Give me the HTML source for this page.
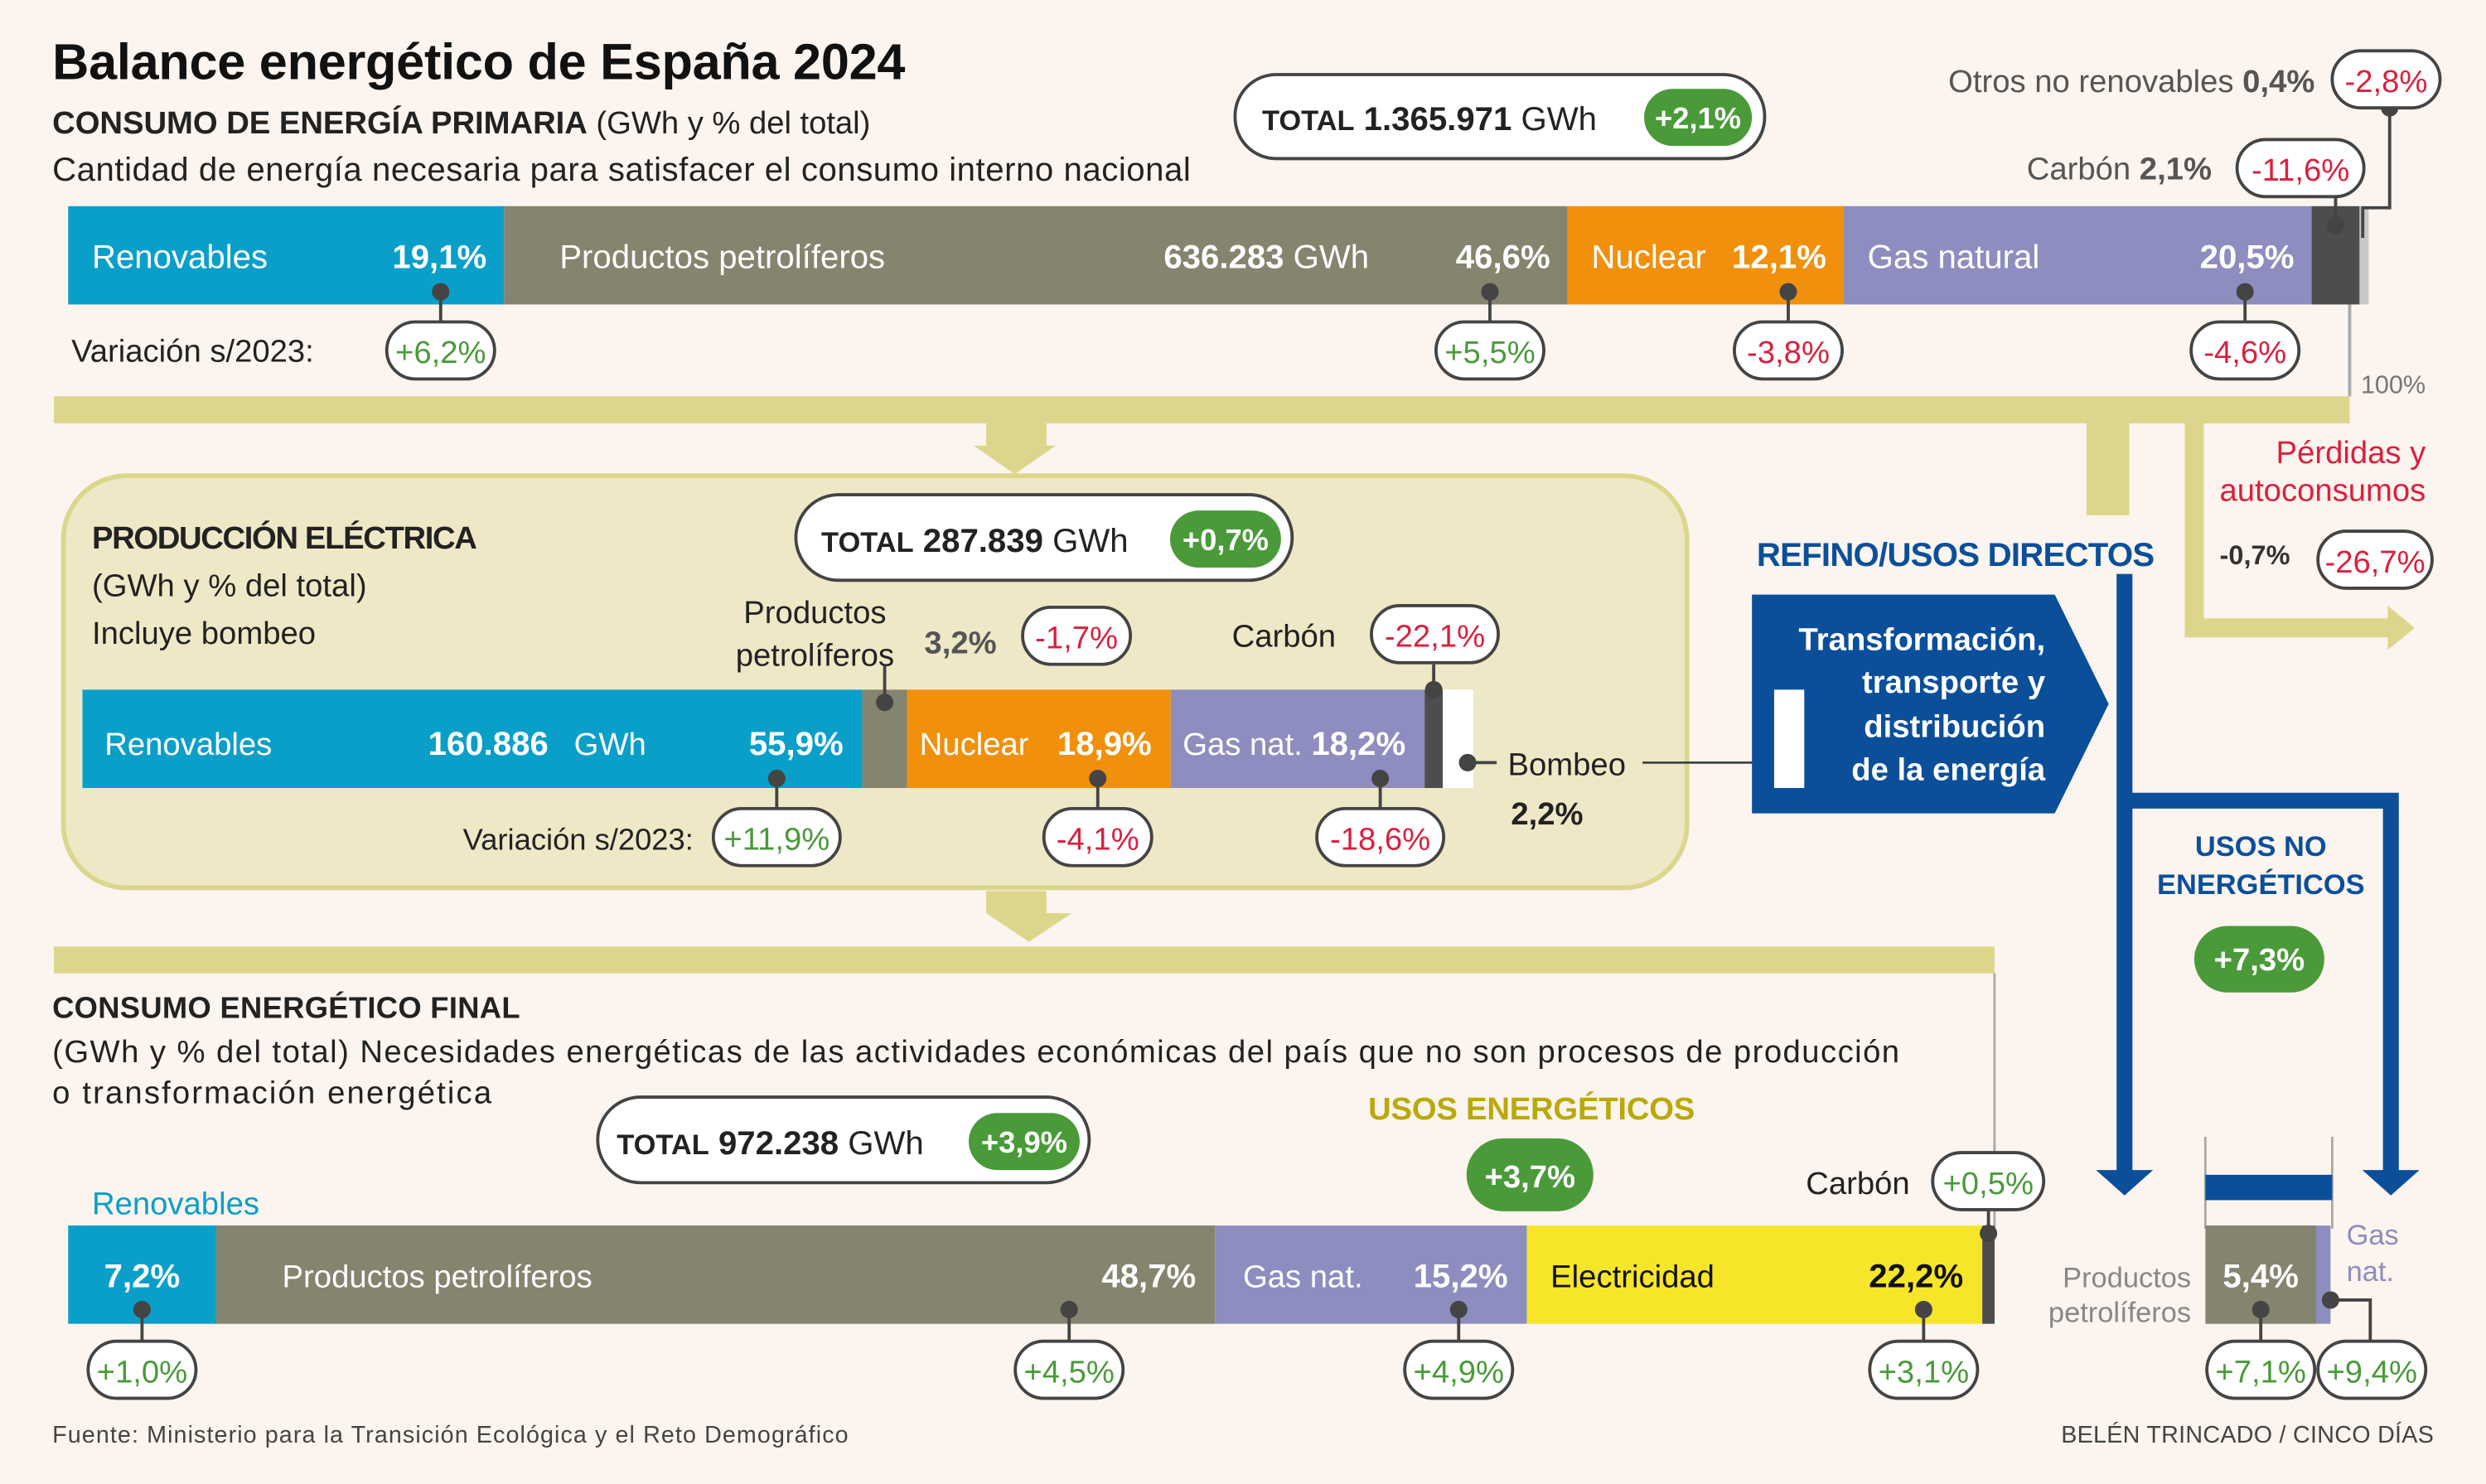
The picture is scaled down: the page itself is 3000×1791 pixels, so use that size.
<!DOCTYPE html>
<html><head><meta charset="utf-8">
<style>
html,body{margin:0;padding:0;background:#fcf4ee;}
svg{display:block;font-family:"Liberation Sans",sans-serif;}
.w{fill:#fff}.b{font-weight:bold}
.pill{fill:#fff;stroke:#444;stroke-width:2}
.red{fill:#d8213e}.grn{fill:#4a9a3a}
</style></head>
<body>
<svg id="chart" width="3000" height="1791" viewBox="0 0 1568 936" xmlns="http://www.w3.org/2000/svg">
<rect width="1568" height="936" fill="#fcf4ee"/>
<g id="static" font-size="20" fill="#222">
<text x="33" y="50" font-size="32" font-weight="bold" fill="#111" textLength="538">Balance energético de España 2024</text>
<text x="33" y="84" font-size="20" textLength="516"><tspan font-weight="bold">CONSUMO DE ENERGÍA PRIMARIA</tspan> (GWh y % del total)</text>
<text x="33" y="114" font-size="21" textLength="718">Cantidad de energía necesaria para satisfacer el consumo interno nacional</text>
<rect x="779" y="47" width="334" height="53" rx="26" class="pill"/>
<text x="796" y="82" font-size="21"><tspan font-weight="bold" font-size="18">TOTAL</tspan> <tspan font-weight="bold">1.365.971</tspan> GWh</text>
<rect x="1037" y="56" width="68" height="36" rx="18" fill="#4a9a3a"/>
<text x="1071" y="81" text-anchor="middle" class="w b" font-size="19">+2,1%</text>
<text x="1460" y="58" text-anchor="end" fill="#555" font-size="20">Otros no renovables <tspan font-weight="bold">0,4%</tspan></text>
<text x="1395" y="113" text-anchor="end" fill="#555" font-size="20">Carbón <tspan font-weight="bold">2,1%</tspan></text>
<text x="45" y="228" font-size="20">Variación s/2023:</text>
<rect x="34" y="250" width="1448" height="17" fill="#dcd68c"/>
<line x1="1482" y1="192" x2="1482" y2="250" stroke="#aaa" stroke-width="2"/>
<text x="1489" y="248" font-size="16" fill="#777">100%</text>
<rect x="622" y="267" width="38" height="14" fill="#dcd68c"/>
<polygon points="614,281 666,281 640,299" fill="#dcd68c"/>
<rect x="1316" y="258" width="27" height="67" fill="#dcd68c"/>
<path d="M1384,258 V396 H1508" fill="none" stroke="#dcd68c" stroke-width="12"/>
<polygon points="1506,382 1523,396 1506,410" fill="#dcd68c"/>
<text x="1530" y="292" text-anchor="end" class="red" font-size="20">Pérdidas y</text>
<text x="1530" y="316" text-anchor="end" class="red" font-size="20">autoconsumos</text>
<text x="1400" y="356" font-size="17" font-weight="bold" fill="#333">-0,7%</text>
<rect x="40" y="300" width="1024" height="260" rx="40" fill="#efe8c6" stroke="#dcd68c" stroke-width="3"/>
<text x="58" y="346" font-size="20" font-weight="bold" textLength="243">PRODUCCIÓN ELÉCTRICA</text>
<text x="58" y="376">(GWh y % del total)</text>
<text x="58" y="406">Incluye bombeo</text>
<rect x="502" y="312" width="313" height="54" rx="27" class="pill"/>
<text x="518" y="348" font-size="21"><tspan font-weight="bold" font-size="18">TOTAL</tspan> <tspan font-weight="bold">287.839</tspan> GWh</text>
<rect x="738" y="322" width="70" height="36" rx="18" fill="#4a9a3a"/>
<text x="773" y="347" text-anchor="middle" class="w b" font-size="19">+0,7%</text>
<text x="514" y="393" text-anchor="middle">Productos</text>
<text x="514" y="420" text-anchor="middle">petrolíferos</text>
<text x="583" y="412" font-weight="bold" fill="#555">3,2%</text>
<text x="777" y="408">Carbón</text>
<text x="292" y="536" font-size="19">Variación s/2023:</text>
<text x="951" y="489">Bombeo</text>
<text x="953" y="520" font-weight="bold">2,2%</text>
<line x1="1036" y1="481" x2="1127" y2="481" stroke="#444" stroke-width="1.5"/>
<rect x="622" y="562" width="38" height="14" fill="#dcd68c"/>
<polygon points="622,576 676,576 649,594" fill="#dcd68c"/>
<text x="1108" y="357" font-size="21" font-weight="bold" fill="#0b4f9a" textLength="251">REFINO/USOS DIRECTOS</text>
<rect x="1335" y="362" width="10" height="378" fill="#0b4f9a"/>
<polygon points="1322,738 1358,738 1340,754" fill="#0b4f9a"/>
<path d="M1340,505 H1508 V740" fill="none" stroke="#0b4f9a" stroke-width="10"/>
<polygon points="1490,738 1526,738 1508,754" fill="#0b4f9a"/>
<polygon points="1105,375 1296,375 1330,444 1296,513 1105,513" fill="#0b4f9a"/>
<rect x="1119" y="435" width="19" height="62" fill="#fff"/>
<g class="w b" font-size="20" text-anchor="end">
<text x="1290" y="410">Transformación,</text><text x="1290" y="437">transporte y</text><text x="1290" y="465">distribución</text><text x="1290" y="492">de la energía</text></g>
<text x="1426" y="540" text-anchor="middle" font-size="18" font-weight="bold" fill="#0b4f9a">USOS NO</text>
<text x="1426" y="564" text-anchor="middle" font-size="18" font-weight="bold" fill="#0b4f9a">ENERGÉTICOS</text>
<rect x="1384" y="584" width="82" height="42" rx="21" fill="#4a9a3a"/>
<text x="1425" y="612" text-anchor="middle" class="w b" font-size="20">+7,3%</text>
<rect x="34" y="597" width="1224" height="17" fill="#dcd68c"/>
<line x1="1258" y1="614" x2="1258" y2="775" stroke="#aaa" stroke-width="1.5"/>
<line x1="1391" y1="717" x2="1391" y2="775" stroke="#aaa" stroke-width="1.5"/>
<line x1="1471" y1="717" x2="1471" y2="775" stroke="#aaa" stroke-width="1.5"/>
<rect x="1391" y="741" width="80" height="16" fill="#0b4f9a"/>
<text x="33" y="642" font-size="19" font-weight="bold" textLength="295">CONSUMO ENERGÉTICO FINAL</text>
<text x="33" y="670" textLength="1165">(GWh y % del total) Necesidades energéticas de las actividades económicas del país que no son procesos de producción</text>
<text x="33" y="696" textLength="277">o transformación energética</text>
<rect x="377" y="692" width="310" height="54" rx="27" class="pill"/>
<text x="389" y="728" font-size="21"><tspan font-weight="bold" font-size="18">TOTAL</tspan> <tspan font-weight="bold">972.238</tspan> GWh</text>
<rect x="611" y="702" width="70" height="36" rx="18" fill="#4a9a3a"/>
<text x="646" y="727" text-anchor="middle" class="w b" font-size="19">+3,9%</text>
<text x="966" y="706" text-anchor="middle" font-size="20" font-weight="bold" fill="#b9a90a" textLength="206">USOS ENERGÉTICOS</text>
<rect x="925" y="718" width="80" height="46" rx="23" fill="#4a9a3a"/>
<text x="965" y="749" text-anchor="middle" class="w b" font-size="20">+3,7%</text>
<text x="1139" y="753">Carbón</text>
<text x="58" y="766" fill="#0a9fc9">Renovables</text>
<text x="1382" y="812" text-anchor="end" fill="#888" font-size="18">Productos</text>
<text x="1382" y="834" text-anchor="end" fill="#888" font-size="18">petrolíferos</text>
<text x="1480" y="785" fill="#8e8dbf" font-size="18">Gas</text>
<text x="1480" y="808" fill="#8e8dbf" font-size="18">nat.</text>
<text x="33" y="910" font-size="15" fill="#444" textLength="502">Fuente: Ministerio para la Transición Ecológica y el Reto Demográfico</text>
<text x="1535" y="910" font-size="15" fill="#444" text-anchor="end" textLength="235">BELÉN TRINCADO / CINCO DÍAS</text>
</g>
<g id="bars"></g>
<g id="ann"></g>
</svg>
<script>
// Primary energy (% of total)
const priNames = ["Renovables","Productos petrolíferos","Nuclear","Gas natural","Carbón","Otros no renovables"];
const priShares = [19.1, 46.6, 12.1, 20.5, 2.1, 0.4];
const priChange = ["+6,2%","+5,5%","-3,8%","-4,6%","-11,6%","-2,8%"];
// Electricity production
const prodNames = ["Renovables","Productos petrolíferos","Nuclear","Gas nat.","Carbón","Bombeo"];
const prodShares = [55.9, 3.2, 18.9, 18.2, 1.3, 2.2];
const prodChange = ["+11,9%","-1,7%","-4,1%","-18,6%","-22,1%",""];
// Final consumption (energy uses)
const finNames = ["Renovables","Productos petrolíferos","Gas nat.","Electricidad","Carbón"];
const finShares = [7.2, 48.7, 15.2, 22.2, 0.6];
const finChange = ["+1,0%","+4,5%","+4,9%","+3,1%","+0,5%"];
// Non-energy uses
const neNames = ["Productos petrolíferos","Gas nat."];
const neShares = [5.4, 0.7];
const neChange = ["+7,1%","+9,4%"];

const NS="http://www.w3.org/2000/svg";
const bars=document.getElementById('bars'), ann=document.getElementById('ann');
function mk(tag,attrs,parent,txt){const e=document.createElementNS(NS,tag);for(const k in attrs)e.setAttribute(k,attrs[k]);if(txt!==undefined)e.textContent=txt;(parent||ann).appendChild(e);return e;}
function scaleFor(x0,pxPerPct){return p=>x0+p*pxPerPct;}
function cum(arr,i){let s=0;for(let j=0;j<i;j++)s+=arr[j];return s;}
function total(arr){return cum(arr,arr.length);}
function pill(cx,y,txt,w){const col=txt[0]==='-'?'#d8213e':'#4a9a3a';w=w||(txt.length>5?80:68);
 const r=mk('rect',{x:cx-w/2,y:y,width:w,height:36,rx:18,class:'pill'});
 
 
 mk('text',{x:cx,y:y+26,'text-anchor':'middle',fill:col,'font-size':20},ann,txt);}
function dot(x,y){mk('circle',{cx:x,cy:y,r:5.5,fill:'#444'});}
function line(pts){mk('polyline',{points:pts,fill:'none',stroke:'#444','stroke-width':2});}
function pct(v){return v.toFixed(1).replace('.',',')+'%';}

// ---- Primary bar
const priCol=["#0a9fc9","#85846f","#f0900c","#8e8dbf","#4d4d4d","#c9c9c9"];
const xp=scaleFor(43,1451/total(priShares));
priShares.forEach((v,i)=>{const x=xp(cum(priShares,i));
 const r=mk('rect',{x:x,y:130,width:xp(v)-43,height:62,fill:priCol[i]},bars);
 
 });
const priOff=[40,49,35,42];
for(let i=0;i<4;i++){const x0=xp(cum(priShares,i)),x1=xp(cum(priShares,i+1));
 mk('text',{x:i===1?x0+35:x0+15,y:169,fill:'#fff','font-size':21},ann,priNames[i]);
 mk('text',{x:x1-11,y:169,fill:'#fff','font-size':21,'font-weight':'bold','text-anchor':'end'},ann,pct(priShares[i]));
 const dx=x1-priOff[i]; dot(dx,184); line(dx+','+184+' '+dx+',204'); pill(dx,203,priChange[i]);}
mk('text',{x:734,y:169,fill:'#fff','font-size':21},ann).innerHTML='<tspan font-weight="bold">636.283</tspan> GWh';
{const c=(xp(cum(priShares,4))+xp(cum(priShares,5)))/2; dot(c,142); line(c+',142 '+c+',124'); pill(1451,88,priChange[4]);
 const o=xp(cum(priShares,5))+2; line(o+',150 '+o+',131 '+(o+17)+',131 '+(o+17)+',68'); dot(o+17,68); pill(1505,32,priChange[5]);}
pill(1498,335,"-26,7%",72);

// ---- Production bar
const prodCol=["#0a9fc9","#85846f","#f0900c","#8e8dbf","#4d4d4d","#ffffff"];
const xq=scaleFor(52,880/100);
prodShares.forEach((v,i)=>{const x=xq(cum(prodShares,i));
 const r=mk('rect',{x:x,y:435,width:xq(v)-52,height:62,fill:prodCol[i]},bars);
 
 });
{const e=[0,2,3];const lx=[66,580,746];const off=[54,46,28];
 e.forEach((i,k)=>{const x1=xq(cum(prodShares,i+1));
  mk('text',{x:lx[k],y:476,fill:'#fff','font-size':20},ann,prodNames[i]);
  mk('text',{x:x1-12,y:476,fill:'#fff','font-size':21,'font-weight':'bold','text-anchor':'end'},ann,pct(prodShares[i]));
  const dx=x1-off[k]; dot(dx,491); line(dx+',491 '+dx+',511'); pill(dx,510,prodChange[i]);});
 mk('text',{x:270,y:476,fill:'#fff','font-size':21,'font-weight':'bold'},ann,'160.886');
 mk('text',{x:362,y:476,fill:'#fff','font-size':20},ann,'GWh');
 const pc=(xq(cum(prodShares,1))+xq(cum(prodShares,2)))/2; dot(pc,443); line(pc+',443 '+pc+',420');
 pill(679,383,prodChange[1],68);
 const cc=(xq(cum(prodShares,4))+xq(cum(prodShares,5)))/2; dot(cc,435); line(cc+',435 '+cc+',419'); pill(905,382,prodChange[4]);
 const bc=(xq(cum(prodShares,5))+xq(cum(prodShares,6)))/2; dot(bc+6,481); line((bc+6)+',481 944,481');}

// ---- Final bar
const finCol=["#0a9fc9","#85846f","#8e8dbf","#f7e52a","#4d4d4d"];
const xf=scaleFor(43,1294/100);
finShares.forEach((v,i)=>{const x=xf(cum(finShares,i));
 const r=mk('rect',{x:x,y:773,width:xf(v)-43,height:62,fill:finCol[i]},bars);
 
 });
{const lx=[null,178,784,978];const dark=[false,false,false,true];const off=[0,92,43,37];
 for(let i=0;i<4;i++){const x0=xf(cum(finShares,i)),x1=xf(cum(finShares,i+1));const c=dark[i]?'#111':'#fff';
  if(i===0) mk('text',{x:(x0+x1)/2,y:812,fill:c,'font-size':21,'font-weight':'bold','text-anchor':'middle'},ann,pct(finShares[i]));
  else{mk('text',{x:lx[i],y:812,fill:c,'font-size':20},ann,finNames[i]);
   mk('text',{x:x1-12,y:812,fill:c,'font-size':21,'font-weight':'bold','text-anchor':'end'},ann,pct(finShares[i]));}
  const dx=i===0?(x0+x1)/2:x1-off[i]; dot(dx,826); line(dx+',826 '+dx+',846'); pill(dx,846,finChange[i],68);}
 const cx=(xf(cum(finShares,4))+xf(cum(finShares,5)))/2; dot(cx,778); line(cx+',778 '+cx+',763'); pill(1254,727,finChange[4],70);}

// ---- Non-energy bar
const neCol=["#85846f","#8e8dbf"];
const xn=scaleFor(1391,1294/100);
neShares.forEach((v,i)=>{const x=xn(cum(neShares,i));
 const r=mk('rect',{x:x,y:773,width:xn(v)-1391,height:62,fill:neCol[i]},bars);
 
 });
{const x1=xn(neShares[0]);const c=(1391+x1)/2;
 mk('text',{x:c,y:812,fill:'#fff','font-size':21,'font-weight':'bold','text-anchor':'middle'},ann,pct(neShares[0]));
 dot(c,826); line(c+',826 '+c+',846'); pill(c,846,neChange[0],68);
 const g=xn(cum(neShares,2)); dot(g,820); line(g+',820 1495,820 1495,846'); pill(1496,846,neChange[1],68);}
</script>
</body></html>
